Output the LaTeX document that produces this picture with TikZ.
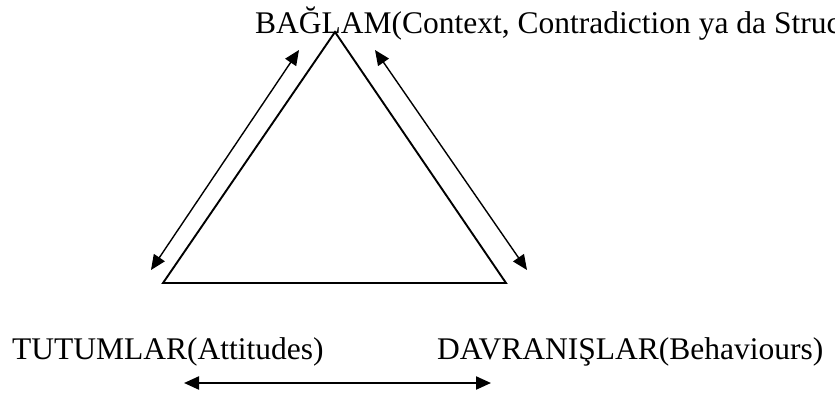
\documentclass[tikz,border=0pt]{standalone}
\usepackage{fontspec}
\setmainfont{Liberation Serif}
\usetikzlibrary{arrows.meta}
\tikzset{
  lbl/.style={inner sep=0pt, anchor=base west, font=\fontsize{31.5}{36}\selectfont},
  tri/.style={line width=1.9pt, line join=miter},
  dbl/.style={line width=1.4pt, {Triangle[length=15pt,width=13pt]}-{Triangle[length=15pt,width=13pt]}},
}
\begin{document}
\begin{tikzpicture}[x=1pt,y=-1pt]
\useasboundingbox (0,0) rectangle (835,399);
\clip (0,0) rectangle (835,399);
% texts
\node[lbl] (ctx) at (255,33) {BAĞLAM(Context, Contradiction ya da Structure)};
\node[lbl] (att) at (12,359) {TUTUMLAR(Attitudes)};
\node[lbl] (beh) at (437,359) {DAVRANIŞLAR(Behaviours)};
% triangle
\coordinate (apex) at (335,32);
\coordinate (bl) at (163,283);
\coordinate (br) at (506,283);
\draw[tri] (apex) -- (bl) -- (br) -- cycle;
% arrows along the sides
\coordinate (la1) at (151,270);
\coordinate (la2) at (299,50);
\coordinate (ra1) at (375,50);
\coordinate (ra2) at (527,270);
\draw[dbl] (la1) -- (la2);
\draw[dbl] (ra1) -- (ra2);
% bottom arrow
\coordinate (ba1) at (184,383);
\coordinate (ba2) at (491,383);
\draw[dbl, line width=2.2pt] (ba1) -- (ba2);
\end{tikzpicture}
\end{document}
